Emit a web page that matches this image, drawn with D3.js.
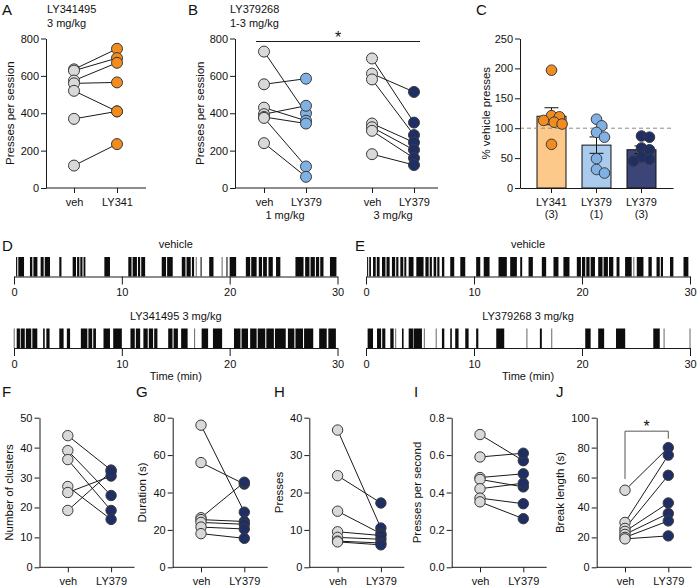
<!DOCTYPE html>
<html><head><meta charset="utf-8">
<script src="https://cdn.jsdelivr.net/npm/d3@7"></script>
<style>
body{margin:0;background:#fff}
svg{display:block}
</style></head><body>
<svg id="chart" width="698" height="586"></svg>
<script>
// ---------------- DATA ----------------
const presTicks = [0, 200, 400, 600, 800];
// Panel A (LY341495 3 mg/kg), paired per animal
const aCats = ["veh", "LY341"];
const aVeh   = [635, 628, 575, 560, 520, 370, 120];
const aLY341 = [745, 695, 670, 565, 410, 410, 235];
// Panel B (LY379268 1-3 mg/kg)
const bCats = ["veh", "LY379"];
const bDoses = ["1 mg/kg", "3 mg/kg"];
const bVeh1 = [730, 555, 430, 395, 380, 375, 240];
const bLY1  = [400, 585, 360, 440, 345, 115, 60];
const bVeh3 = [693, 612, 581, 345, 325, 306, 181];
const bLY3  = [350, 514, 283, 244, 204, 160, 123];
// Panel C (% vehicle presses)
const cTicks = [0, 50, 100, 150, 200, 250];
const cCats = ["LY341", "LY379", "LY379"];
const cDoseLabels = ["(3)", "(1)", "(3)"];
const cLY341  = [197, 121, 119, 113, 110, 107, 73];
const cLY379a = [115, 104, 93, 85, 49, 31, 25];
const cLY379b = [87, 85, 67, 64, 52, 48, 45];
const cRef = 100;
// Panels D/E: press bursts as [start, end] in minutes, single presses as times
const timeTicks = [0, 10, 20, 30];
const rasterDVeh = [[0.19,0.3],[0.4,0.93],[1.48,1.7],[1.8,2.17],[2.47,2.75],[2.85,3.34],[4.2,4.4],[5.44,5.75],[5.85,6.06],[6.15,6.35],[6.45,6.62],[8.38,8.9],[10.6,10.9],[11.0,11.4],[11.5,11.7],[11.8,12.16],[13.7,14.1],[14.2,14.72],[15.56,15.9],[16.0,16.39],[16.5,16.7],[17.3,17.4],[18.1,18.5],[19.7,19.8],[20.0,20.6],[21.5,21.9],[22.0,22.5],[22.7,23.0],[23.1,23.45],[23.6,24.0],[24.3,24.7],[26.1,26.85],[27.0,27.4],[27.5,27.9],[28.0,28.3],[28.4,28.7],[29.3,29.9]];
const singlesDVeh = [16.9, 19.3];
const rasterDLY = [[0.25,0.55],[0.62,1.0],[1.1,1.6],[1.7,2.16],[2.7,2.85],[3.0,3.3],[4.2,4.6],[4.9,5.2],[6.2,6.8],[6.9,7.25],[7.35,7.6],[8.3,8.9],[9.2,10.0],[10.8,11.2],[11.3,11.7],[12.0,12.4],[12.5,12.9],[13.0,13.3],[14.3,14.7],[14.8,15.2],[15.5,16.1],[17.4,18.0],[18.45,19.3],[20.4,21.0],[21.1,21.7],[21.9,22.5],[22.6,23.3],[23.4,24.1],[24.2,25.2],[25.4,26.0],[26.1,26.8],[26.9,27.75],[28.3,29.0],[29.15,29.85]];
const singlesDLY = [0.02, 16.75];
const rasterEVeh = [[0.1,0.2],[0.3,0.46],[0.65,0.9],[1.0,1.26],[1.48,1.8],[1.9,2.19],[2.4,2.7],[2.8,3.0],[3.18,3.45],[3.55,3.73],[3.95,4.4],[4.66,5.33],[5.5,5.8],[5.9,6.1],[6.26,6.5],[6.6,6.8],[7.03,7.25],[7.8,8.17],[8.73,9.19],[10.2,10.58],[10.9,11.44],[12.27,13.04],[13.35,13.97],[14.28,14.46],[15.05,15.45],[16.28,16.68],[17.36,17.82],[18.28,18.84],[19.52,19.9],[20.0,20.3],[20.4,20.7],[20.8,21.2],[21.5,21.9],[22.0,22.4],[22.5,22.9],[23.2,23.47],[23.99,24.6],[25.07,25.69],[26.15,26.46],[26.9,27.2],[27.3,27.5],[28.15,28.46],[29.4,29.85]];
const singlesEVeh = [24.8];
const rasterELY = [[0.15,0.65],[1.02,1.4],[1.5,1.79],[2.25,2.56],[3.33,3.48],[3.95,4.35],[4.4,5.18],[7.03,7.25],[7.8,7.95],[8.26,8.57],[9.19,9.5],[10.2,10.4],[12.06,12.8],[16.1,16.28],[20.3,20.8],[21.5,22.05],[23.15,24.0],[26.6,27.2]];
const singlesELY = [2.75, 5.4, 6.5, 14.9, 17.2, 27.6, 30];
// Panels F-J: cluster analysis, veh vs LY379
const fgCats = ["veh", "LY379"];
const fTicks = [0, 10, 20, 30, 40, 50];
const fVeh = [44, 39, 36, 27, 25, 19];
const fLY  = [32.5, 24, 19, 16, 30.5, 32];
const gTicks = [0, 20, 40, 60, 80];
const gVeh = [76, 56, 26.5, 25.5, 24, 21.5, 18];
const gLY  = [29.5, 44.5, 45.5, 24.5, 23, 20.5, 15.5];
const hTicks = [0, 10, 20, 30, 40];
const hVeh = [36.7, 24.5, 15, 9.5, 8, 7, 6.8];
const hLY  = [10.5, 17.2, 9, 8.5, 7.5, 6.5, 6];
const iTicks = [0, 0.2, 0.4, 0.6, 0.8];
const iVeh = [0.71, 0.59, 0.48, 0.47, 0.42, 0.37, 0.35];
const iLY  = [0.57, 0.61, 0.50, 0.43, 0.45, 0.34, 0.26];
const jTicks = [0, 20, 40, 60, 80, 100];
const jVeh = [51.5, 30, 26, 24, 22, 20, 19];
const jLY  = [80, 75, 61.5, 43, 36, 31, 21];

// ---------------- STYLE ----------------
const FONT = '"Liberation Sans", Arial, Helvetica, sans-serif';
const AX = "#1a1a1a";
const GRAY = "#d9d9d9", OUT = "#3a3a3a";
const ORANGE = "#f28c1e", LIGHTBLUE = "#7fb1e4", NAVY = "#1f2f66";
const BAR_FILLS = ["#fdc98b", "#aacbee", "#3c4577"];
const PT_FILLS = [ORANGE, LIGHTBLUE, NAVY];

const svg = d3.select("#chart").attr("font-family", FONT);

function styleAxis(sel) {
  sel.selectAll("text").attr("font-size", 11).attr("fill", "#111").attr("font-family", FONT);
  sel.selectAll("line,path").attr("stroke", AX).attr("stroke-width", 1);
}
function txt(x, y, s, o = {}) {
  const t = svg.append("text").attr("x", x).attr("y", y).text(s)
    .attr("font-size", o.size || 11).attr("fill", "#111")
    .attr("text-anchor", o.anchor || "start");
  if (o.rotate) t.attr("transform", `rotate(-90,${x},${y})`).attr("dy", "0.35em");
  return t;
}

function paired(o) {
  const g = svg.append("g");
  const y = d3.scaleLinear().domain([0, o.max]).range([o.bottom, o.top]);
  const ay = g.append("g").attr("transform", `translate(${o.axisX},0)`)
    .call(d3.axisLeft(y).tickValues(o.ticks).tickFormat(o.fmt || d3.format("d"))
      .tickSize(5).tickSizeOuter(0).tickPadding(2));
  styleAxis(ay);
  g.append("line").attr("x1", o.axisX).attr("x2", o.axisEnd)
    .attr("y1", o.bottom).attr("y2", o.bottom).attr("stroke", AX);
  const r = o.r || 5.3;
  o.groups.forEach(gr => {
    const x = d3.scalePoint().domain(gr.cats).range(gr.range);
    const ax = g.append("g").attr("transform", `translate(0,${o.bottom})`)
      .call(d3.axisBottom(x).tickSize(5).tickSizeOuter(0).tickPadding(5));
    ax.select(".domain").remove();
    styleAxis(ax);
    const pairs = gr.a.map((v, i) => [v, gr.b[i]]);
    g.append("g").selectAll("line").data(pairs).join("line")
      .attr("x1", x(gr.cats[0])).attr("x2", x(gr.cats[1]))
      .attr("y1", d => y(d[0])).attr("y2", d => y(d[1]))
      .attr("stroke", "#1a1a1a").attr("stroke-width", 1);
    g.append("g").selectAll("circle").data(gr.a).join("circle")
      .attr("cx", x(gr.cats[0])).attr("cy", d => y(d)).attr("r", r)
      .attr("fill", GRAY).attr("stroke", OUT).attr("stroke-width", 1);
    g.append("g").selectAll("circle").data(gr.b).join("circle")
      .attr("cx", x(gr.cats[1])).attr("cy", d => y(d)).attr("r", r)
      .attr("fill", gr.color).attr("stroke", OUT).attr("stroke-width", 1);
    gr.x = x;
  });
  txt(o.titleX, (o.top + o.bottom) / 2, o.yTitle, { anchor: "middle", rotate: true, size: 11.5 });
  return y;
}

function raster(o) {
  const g = svg.append("g");
  const x = d3.scaleLinear().domain([0, 30]).range([o.x0, o.x1]);
  g.append("g").selectAll("rect").data(o.bursts).join("rect")
    .attr("x", d => x(d[0])).attr("width", d => Math.max(1, x(d[1]) - x(d[0])))
    .attr("y", o.top).attr("height", o.bottom - o.top).attr("fill", "#0d0d0d");
  g.append("g").selectAll("line").data(o.singles).join("line")
    .attr("x1", d => x(d)).attr("x2", d => x(d))
    .attr("y1", o.top).attr("y2", o.bottom).attr("stroke", "#666").attr("stroke-width", 1);
  const ax = g.append("g").attr("transform", `translate(0,${o.bottom})`)
    .call(d3.axisBottom(x).tickValues(timeTicks).tickFormat(d3.format("d"))
      .tickSize(8).tickSizeOuter(0).tickPadding(4));
  styleAxis(ax);
  txt((o.x0 + o.x1) / 2, o.top - 9, o.title, { anchor: "middle" });
  if (o.xTitle) txt((o.x0 + o.x1) / 2, o.bottom + 32, o.xTitle, { anchor: "middle" });
}

// scatter placement within a bar: overlap allowed, limited spread
function dodge(vals, y, r) {
  const order = vals.map((v, i) => i).sort((a, b) => vals[b] - vals[a]);
  const placed = [], off = new Array(vals.length);
  const cands = [0, 1, -1, 2, -2, 3, -3, 4, -4].map(k => k * r * 0.5);
  order.forEach(i => {
    const yy = y(vals[i]);
    let best = null, bestD = -1;
    for (const o of cands) {
      const dmin = placed.length ? d3.min(placed, p => Math.hypot(p.x - o, p.y - yy)) : Infinity;
      if (dmin >= 1.45 * r) { best = o; break; }
      if (dmin > bestD) { bestD = dmin; best = o; }
    }
    off[i] = best; placed.push({ x: best, y: yy });
  });
  return off;
}

// ---------------- PANEL A ----------------
txt(2, 15, "A", { size: 15 });
txt(47, 13, "LY341495");
txt(47, 27, "3 mg/kg");
paired({ axisX: 46, axisEnd: 146, top: 38.5, bottom: 188, max: 800, ticks: presTicks,
  groups: [{ cats: aCats, range: [74, 117], a: aVeh, b: aLY341, color: ORANGE }],
  titleX: 10, yTitle: "Presses per session", r: 5.5 });

// ---------------- PANEL B ----------------
txt(188, 15, "B", { size: 15 });
txt(230, 13, "LY379268");
txt(230, 27, "1-3 mg/kg");
const bGroups = [
  { cats: bCats, range: [264, 306], a: bVeh1, b: bLY1, color: LIGHTBLUE },
  { cats: bCats, range: [372, 414], a: bVeh3, b: bLY3, color: NAVY }];
const yB = paired({ axisX: 235, axisEnd: 438, top: 38.5, bottom: 188, max: 800, ticks: presTicks,
  groups: bGroups, titleX: 200, yTitle: "Presses per session", r: 5.5 });
bGroups.forEach((gr, i) => txt(d3.mean(gr.range), 219, bDoses[i], { anchor: "middle" }));
svg.append("line").attr("x1", bGroups[0].range[0] - 8).attr("x2", bGroups[1].range[1] + 6)
  .attr("y1", yB(800) + 3).attr("y2", yB(800) + 3).attr("stroke", AX);
txt(338, 43, "*", { anchor: "middle", size: 16 });

// ---------------- PANEL C ----------------
txt(476, 15, "C", { size: 15 });
{
  const g = svg.append("g");
  const top = 38.5, bottom = 188, x0 = 520, x1 = 673;
  const y = d3.scaleLinear().domain([0, 250]).range([bottom, top]);
  const x = d3.scaleBand().domain(d3.range(cCats.length)).range([x0, x1])
    .paddingInner(0.356).paddingOuter(0.378);
  const sets = [cLY341, cLY379a, cLY379b];
  const stats = sets.map(s => {
    const m = d3.mean(s), sem = d3.deviation(s) / Math.sqrt(s.length);
    return { m, sem };
  });
  // bars
  g.append("g").selectAll("rect").data(stats).join("rect")
    .attr("x", (d, i) => x(i)).attr("width", x.bandwidth())
    .attr("y", d => y(d.m)).attr("height", d => y(0) - y(d.m))
    .attr("fill", (d, i) => BAR_FILLS[i]).attr("stroke", "#111").attr("stroke-width", 1);
  // dashed reference
  g.append("line").attr("x1", x0).attr("x2", x1).attr("y1", y(cRef)).attr("y2", y(cRef))
    .attr("stroke", "#8a8a8a").attr("stroke-dasharray", "4,3").attr("stroke-width", 1);
  // error bars
  const eb = g.append("g").attr("stroke", "#111").attr("stroke-width", 1);
  stats.forEach((d, i) => {
    const cx = x(i) + x.bandwidth() / 2;
    eb.append("line").attr("x1", cx).attr("x2", cx).attr("y1", y(d.m - d.sem)).attr("y2", y(d.m + d.sem));
    [d.m - d.sem, d.m + d.sem].forEach(v =>
      eb.append("line").attr("x1", cx - 7).attr("x2", cx + 7).attr("y1", y(v)).attr("y2", y(v)));
  });
  // points
  const r = 5.3;
  sets.forEach((s, i) => {
    const offs = dodge(s, y, r);
    const cx = x(i) + x.bandwidth() / 2;
    g.append("g").selectAll("circle").data(s).join("circle")
      .attr("cx", (d, j) => cx + offs[j]).attr("cy", d => y(d)).attr("r", r)
      .attr("fill", PT_FILLS[i]).attr("stroke", OUT).attr("stroke-width", 1);
  });
  const ay = g.append("g").attr("transform", `translate(${x0},0)`)
    .call(d3.axisLeft(y).tickValues(cTicks).tickSize(5).tickSizeOuter(0).tickPadding(2));
  styleAxis(ay);
  const ax = g.append("g").attr("transform", `translate(0,${bottom})`)
    .call(d3.axisBottom(x).tickSize(5).tickSizeOuter(0).tickPadding(5).tickFormat(i => cCats[i]));
  styleAxis(ax);
  ax.selectAll(".tick text").each(function (i) {
    d3.select(this).append("tspan").attr("x", 0).attr("dy", "1.15em").text(cDoseLabels[i]);
  });
  txt(486, (top + bottom) / 2, "% vehicle presses", { anchor: "middle", rotate: true, size: 11.5 });
}

// ---------------- PANELS D / E ----------------
txt(2, 251, "D", { size: 15 });
txt(355, 251, "E", { size: 15 });
raster({ x0: 14, x1: 337.5, top: 257, bottom: 276.5, bursts: rasterDVeh, singles: singlesDVeh, title: "vehicle" });
raster({ x0: 14, x1: 337.5, top: 328.5, bottom: 348, bursts: rasterDLY, singles: singlesDLY, title: "LY341495 3 mg/kg", xTitle: "Time (min)" });
raster({ x0: 366, x1: 690, top: 257, bottom: 276.5, bursts: rasterEVeh, singles: singlesEVeh, title: "vehicle" });
raster({ x0: 366, x1: 690, top: 328.5, bottom: 348, bursts: rasterELY, singles: singlesELY, title: "LY379268 3 mg/kg", xTitle: "Time (min)" });

// ---------------- PANELS F - J ----------------
const bTop = 417.7, bBot = 567.3;
const bottomPanels = [
  { L: "F", lx: 2,   axisX: 39.5,  max: 50,  ticks: fTicks, a: fVeh, b: fLY, t: "Number of clusters", tx: 9 },
  { L: "G", lx: 136, axisX: 172.7, max: 80,  ticks: gTicks, a: gVeh, b: gLY, t: "Duration (s)", tx: 142 },
  { L: "H", lx: 274, axisX: 309.3, max: 40,  ticks: hTicks, a: hVeh, b: hLY, t: "Presses", tx: 279 },
  { L: "I", lx: 414, axisX: 451.7, max: 0.8, ticks: iTicks, a: iVeh, b: iLY, t: "Presses per second", tx: 417, fmt: d3.format(".1f") },
  { L: "J", lx: 556, axisX: 596.7, max: 100, ticks: jTicks, a: jVeh, b: jLY, t: "Break length (s)", tx: 560 }];
bottomPanels.forEach(p => {
  txt(p.lx, 397, p.L, { size: 15 });
  const gr = { cats: fgCats, range: [p.axisX + 28.3, p.axisX + 71.6], a: p.a, b: p.b, color: NAVY };
  const y = paired({ axisX: p.axisX, axisEnd: p.axisX + 95, top: bTop, bottom: bBot, max: p.max,
    ticks: p.ticks, fmt: p.fmt, groups: [gr], titleX: p.tx, yTitle: p.t, r: 5.2 });
  p.y = y; p.gr = gr;
});
// significance bracket in J
{
  const p = bottomPanels[4];
  const xa = p.gr.x(fgCats[0]), xb = p.gr.x(fgCats[1]);
  const yb = p.y(91);
  svg.append("path").attr("d", `M${xa},${p.y(59)}V${yb}H${xb}V${p.y(86)}`)
    .attr("fill", "none").attr("stroke", "#555").attr("stroke-width", 1);
  txt((xa + xb) / 2, yb + 1, "*", { anchor: "middle", size: 16 });
}
</script></body></html>
